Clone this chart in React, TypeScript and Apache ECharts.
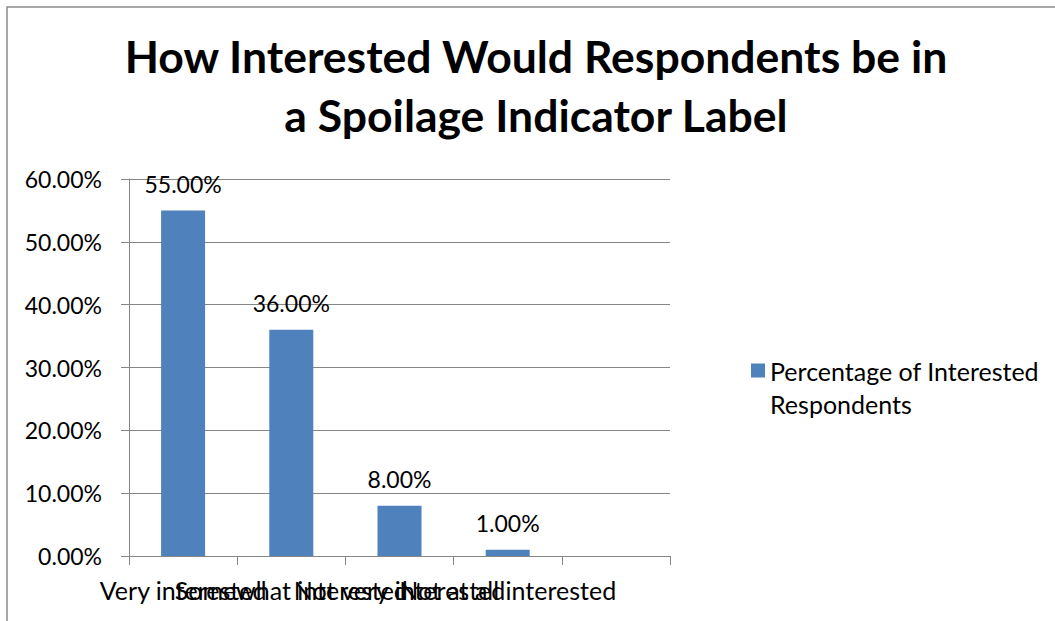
import React, { useEffect, useRef } from "react";
import * as echarts from "echarts";

// Survey answers and the share of respondents for each one (in percent).
const categories = [
  "Very interested",
  "Somewhat interested",
  "Not very interested",
  "Not at all interested",
  "",
];
const percentages = [55, 36, 8, 1];
const seriesName = "Percentage of Interested Respondents";
const legendLines = ["Percentage of Interested", "Respondents"];
const titleLines = ["How Interested Would Respondents be in", "a Spoilage Indicator Label"];

const FONT = "Lato, 'Noto Sans', sans-serif";
const GRAY = "#868686";
const BAR = "#4F81BD";

export default function App() {
  const ref = useRef<HTMLDivElement>(null);

  useEffect(() => {
    if (!ref.current) return;
    const chart = echarts.init(ref.current, null, { renderer: "svg" });
    const pct = (v: number) => `${Number(v).toFixed(2)}%`;

    chart.setOption({
      animation: false,
      backgroundColor: "#ffffff",
      textStyle: { fontFamily: FONT },
      graphic: [
        {
          type: "rect",
          shape: { x: 7, y: 7, width: 1200, height: 800 },
          style: { fill: "none", stroke: "#8a8a8a", lineWidth: 1.5 },
          silent: true,
        },
      ],
      title: {
        text: titleLines.join("\n"),
        left: 536,
        top: 26,
        padding: 0,
        textAlign: "center",
        textStyle: {
          fontFamily: FONT,
          fontWeight: "bold",
          fontSize: 44.5,
          lineHeight: 59,
          color: "#000",
        },
      },
      legend: {
        left: 751,
        top: 321,
        padding: 0,
        icon: "rect",
        itemWidth: 14,
        itemHeight: 14,
        data: [seriesName],
        // leading blank line keeps the first text line level with the swatch
        formatter: () => "\n" + legendLines.join("\n"),
        textStyle: {
          fontFamily: FONT,
          fontSize: 25,
          lineHeight: 33,
          color: "#000",
        },
      },
      grid: { left: 129, right: 385, top: 179, bottom: 65, containLabel: false },
      xAxis: {
        type: "category",
        data: categories,
        axisLine: { lineStyle: { color: GRAY, width: 1 } },
        axisTick: { show: true, length: 9, lineStyle: { color: GRAY } },
        axisLabel: {
          interval: 0,
          margin: 21,
          fontFamily: FONT,
          fontSize: 25,
          color: "#000",
        },
      },
      yAxis: {
        type: "value",
        min: 0,
        max: 60,
        interval: 10,
        axisLine: { show: true, lineStyle: { color: GRAY, width: 1 } },
        axisTick: { show: true, length: 8, lineStyle: { color: GRAY } },
        splitLine: { lineStyle: { color: GRAY, width: 1 } },
        axisLabel: {
          margin: 27,
          formatter: (v: number) => pct(v),
          fontFamily: FONT,
          fontSize: 23,
          color: "#000",
        },
      },
      series: [
        {
          name: seriesName,
          type: "bar",
          data: percentages,
          barWidth: 44,
          itemStyle: { color: BAR },
          label: {
            show: true,
            position: "top",
            distance: 15,
            formatter: (p: any) => pct(p.value),
            fontFamily: FONT,
            fontSize: 23,
            color: "#000",
          },
        },
      ],
    });

    return () => chart.dispose();
  }, []);

  return (
    <div
      ref={ref}
      style={{ position: "absolute", left: 0, top: 0, width: 1055, height: 621 }}
    />
  );
}
